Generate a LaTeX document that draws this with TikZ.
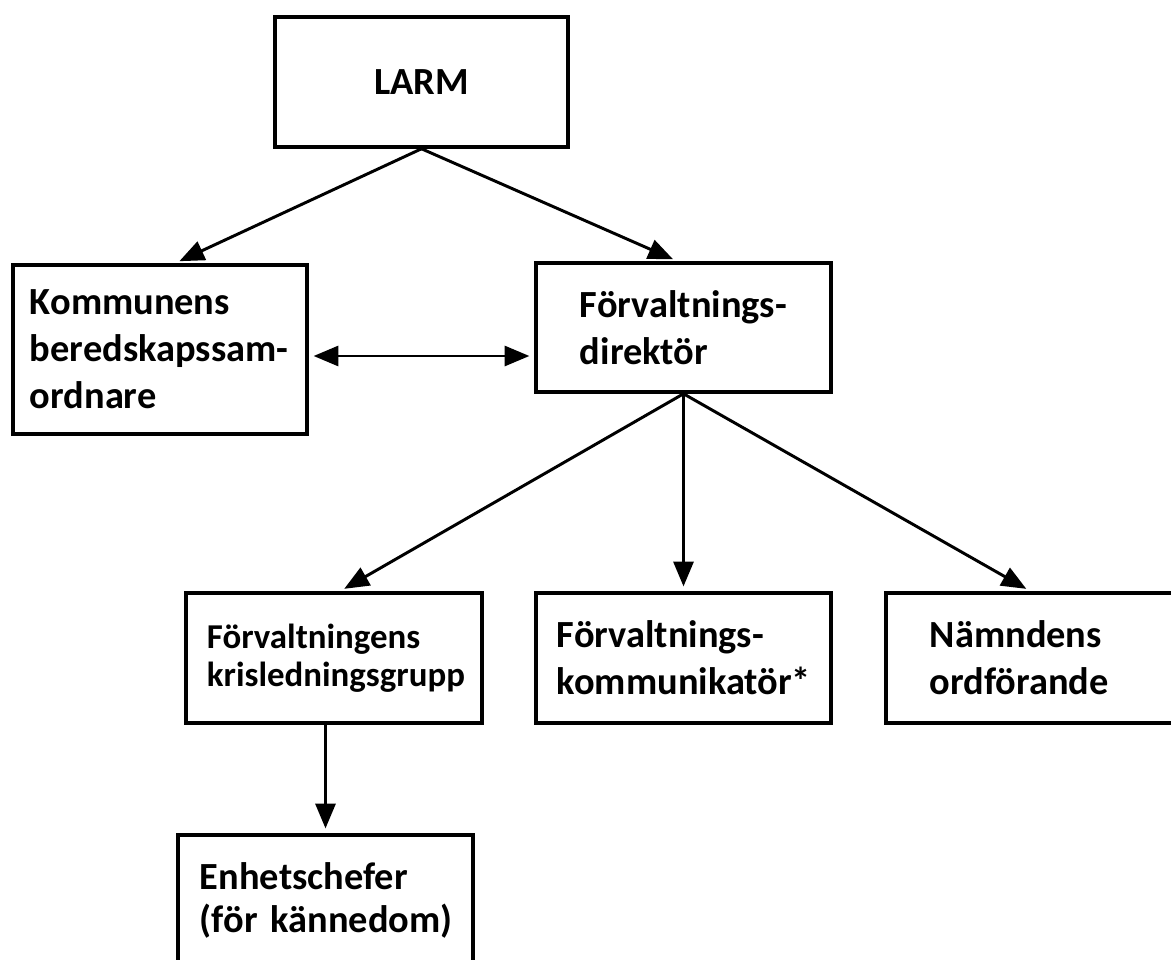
\documentclass[tikz,border=0pt]{standalone}
\usepackage{fontspec}
\setmainfont{Carlito}
\usepackage{tikz}
\usetikzlibrary{arrows.meta,calc}

\begin{document}
\begin{tikzpicture}[x=0.025cm,y=-0.025cm,
  box/.style={shape=rectangle,draw=black,line width=2.5pt,align=left,
    font=\bfseries\fontsize{27.3}{33.4}\selectfont,minimum height=3.25cm,inner ysep=0pt},
  arr/.style={line width=2.1pt,-{Triangle[length=0.62cm,width=0.5cm]},shorten >=0.12cm},
  twoway/.style={line width=2.1pt,{Triangle[length=0.62cm,width=0.5cm]}-{Triangle[length=0.62cm,width=0.5cm]},
    shorten >=0.12cm,shorten <=0.12cm}]
\useasboundingbox (0,0) rectangle (1171,960);
\node[box,align=center,minimum width=7.325cm] (larm) at (421.5,82) {LARM};
\node[box,minimum height=4.225cm,text width=6.5cm,inner xsep=0.425cm] (komm) at (160,349.5) {Kommunens\\beredskapssam-\\ordnare};
\node[box,minimum height=3.225cm,text width=5.175cm,inner xsep=1.1cm] (dir) at (683.5,327.5) {Förvaltnings-\\direktör};
\node[box,text width=6.35cm,inner xsep=0.525cm,font=\bfseries\fontsize{24.8}{27}\selectfont] (kris) at (334,658) {Förvaltningens\\krisledningsgrupp};
\node[box,text width=6.325cm,inner xsep=0.525cm] (komk) at (683.5,658) {Förvaltnings-\\kommunikatör*};
\node[box,text width=5.025cm,inner xsep=1.1cm] (namn) at (1030.5,658) {Nämndens\\ordförande};
\node[box,text width=6.275cm,inner xsep=0.55cm,font=\bfseries\fontsize{27.3}{30.6}\selectfont] (enh) at (325.5,900) {Enhetschefer\\\mbox{(för kännedom)}};
\draw[arr] (larm.south) -- ([xshift=0.375cm]komm.north);
\draw[arr] (larm.south) -- ([xshift=-0.15cm]dir.north);
\draw[twoway] ($(komm.east)+(0,6.5)$) -- ($(komm.east -| dir.west)+(0,6.5)$);
\draw[arr] (dir.south) -- ([xshift=0.15cm]kris.north);
\draw[arr] (dir.south) -- (komk.north);
\draw[arr] (dir.south) -- (namn.north);
\draw[arr] (kris.south -| enh.north) -- (enh.north);
\end{tikzpicture}
\end{document}
